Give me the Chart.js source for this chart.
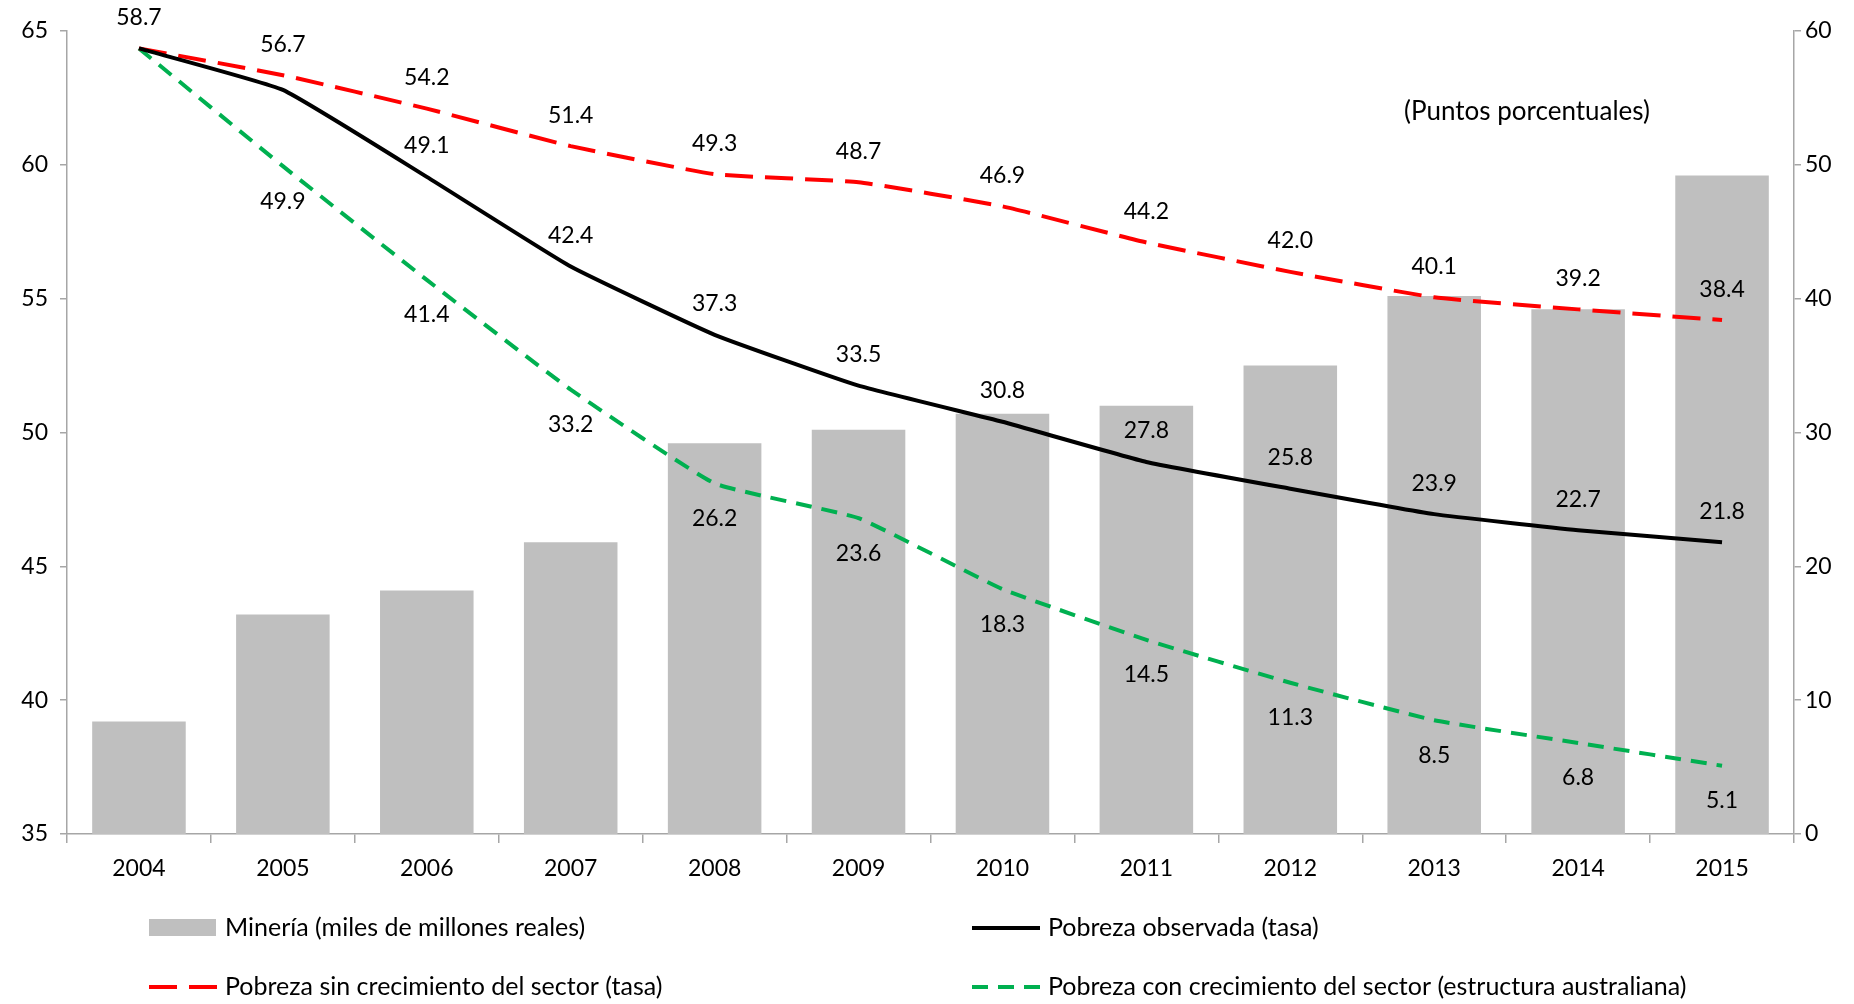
<!DOCTYPE html>
<html>
<head>
<meta charset="utf-8">
<script src="https://cdn.jsdelivr.net/npm/chart.js@4.4.1/dist/chart.umd.min.js"></script>
<style>
html, body { margin: 0; padding: 0; background: #fff; }
#wrap { width: 1854px; height: 1004px; }
</style>
</head>
<body>
<div id="wrap"><canvas id="chart" width="1854" height="1004"></canvas></div>
<script>
// data
const years = ['2004', '2005', '2006', '2007', '2008', '2009', '2010', '2011', '2012', '2013', '2014', '2015'];
const mineria = [39.2, 43.2, 44.1, 45.9, 49.6, 50.1, 50.7, 51.0, 52.5, 55.1, 54.6, 59.6];
const pobrezaObservada = [58.7, 55.6, 49.1, 42.4, 37.3, 33.5, 30.8, 27.8, 25.8, 23.9, 22.7, 21.8];
const pobrezaSin = [58.7, 56.7, 54.2, 51.4, 49.3, 48.7, 46.9, 44.2, 42.0, 40.1, 39.2, 38.4];
const pobrezaCon = [58.7, 49.9, 41.4, 33.2, 26.2, 23.6, 18.3, 14.5, 11.3, 8.5, 6.8, 5.1];
const leftAxis = { min: 35, max: 65, step: 5 };
const rightAxis = { min: 0, max: 60, step: 10 };
const unitNote = '(Puntos porcentuales)';

const FONT = '23px Lato';
const LEGEND_FONT = '25px Lato';
const AXIS_GRAY = '#a6a6a6';

Chart.defaults.color = '#000';
Chart.defaults.font.family = 'Lato';
Chart.defaults.font.size = 23;

// value labels next to the line points
const pointLabels = {
    id: 'pointLabels',
    afterDatasetsDraw(chart) {
        const ctx = chart.ctx;
        ctx.save();
        ctx.font = FONT;
        ctx.fillStyle = '#000';
        ctx.textAlign = 'center';
        ctx.textBaseline = 'middle';
        chart.data.datasets.forEach((ds, i) => {
            if (ds.type !== 'line') return;
            const meta = chart.getDatasetMeta(i);
            meta.data.forEach((pt, j) => {
                if (ds.skipLabels.includes(j)) return;
                const dy = ds.labelPos === 'below' ? 35 : -31;
                ctx.fillText(ds.data[j].toFixed(1), pt.x, pt.y + dy);
            });
        });
        ctx.restore();
    }
};

// two-column legend under the axis, plus the unit note
const bottomLegend = {
    id: 'bottomLegend',
    afterDraw(chart) {
        const ctx = chart.ctx;
        const slots = [
            { ds: 0, x: 149, y: 928 },
            { ds: 1, x: 972, y: 928 },
            { ds: 2, x: 149, y: 987 },
            { ds: 3, x: 972, y: 987 }
        ];
        ctx.save();
        slots.forEach(s => {
            const ds = chart.data.datasets[s.ds];
            if (ds.type === 'bar') {
                ctx.fillStyle = ds.backgroundColor;
                ctx.fillRect(s.x, s.y - 9, 67, 17);
            } else {
                ctx.strokeStyle = ds.borderColor;
                ctx.lineWidth = ds.borderWidth;
                ctx.setLineDash(ds.borderDash || []);
                ctx.beginPath();
                ctx.moveTo(s.x, s.y);
                ctx.lineTo(s.x + 68, s.y);
                ctx.stroke();
                ctx.setLineDash([]);
            }
            ctx.font = LEGEND_FONT;
            ctx.fillStyle = '#000';
            ctx.textAlign = 'left';
            ctx.textBaseline = 'middle';
            ctx.fillText(ds.label, s.x + 76, s.y);
        });
        ctx.font = '26px Lato';
        ctx.textAlign = 'center';
        ctx.fillText(unitNote, 1527, 112);
        ctx.restore();
    }
};

const ctx = document.getElementById('chart').getContext('2d');
const chart = new Chart(ctx, {
    type: 'bar',
    data: {
        labels: years,
        datasets: [
            {
                type: 'bar',
                label: 'Minería (miles de millones reales)',
                data: mineria,
                backgroundColor: '#bfbfbf',
                yAxisID: 'yLeft',
                barPercentage: 0.65,
                categoryPercentage: 1.0,
                order: 10
            },
            {
                type: 'line',
                label: 'Pobreza observada (tasa)',
                data: pobrezaObservada,
                borderColor: '#000000',
                borderWidth: 4,
                pointRadius: 0,
                tension: 0.12,
                yAxisID: 'yRight',
                labelPos: 'above',
                skipLabels: [1],
                order: 1
            },
            {
                type: 'line',
                label: 'Pobreza sin crecimiento del sector (tasa)',
                data: pobrezaSin,
                borderColor: '#ff0000',
                borderWidth: 4,
                borderDash: [28, 12],
                pointRadius: 0,
                tension: 0.12,
                yAxisID: 'yRight',
                labelPos: 'above',
                skipLabels: [0],
                order: 2
            },
            {
                type: 'line',
                label: 'Pobreza con crecimiento del sector (estructura australiana)',
                data: pobrezaCon,
                borderColor: '#00b050',
                borderWidth: 4,
                borderDash: [16, 10],
                pointRadius: 0,
                tension: 0.12,
                yAxisID: 'yRight',
                labelPos: 'below',
                skipLabels: [0],
                order: 3
            }
        ]
    },
    options: {
        responsive: false,
        animation: false,
        devicePixelRatio: 1,
        layout: { padding: { top: 31, left: 0, right: 0, bottom: 0 } },
        plugins: {
            legend: { display: false },
            tooltip: { enabled: false }
        },
        scales: {
            x: {
                grid: { drawOnChartArea: false, drawTicks: true, tickLength: 9, color: AXIS_GRAY, lineWidth: 1.5 },
                border: { color: AXIS_GRAY, width: 1.5 },
                ticks: { padding: 12, font: { size: 23 } },
                afterFit: s => { s.height = 170; }
            },
            yLeft: {
                position: 'left',
                min: leftAxis.min,
                max: leftAxis.max,
                ticks: { stepSize: leftAxis.step, padding: 12 },
                grid: { drawOnChartArea: false, tickLength: 7, color: AXIS_GRAY, lineWidth: 1.5 },
                border: { color: AXIS_GRAY, width: 1.5 },
                afterFit: s => { s.width = 67; }
            },
            yRight: {
                position: 'right',
                min: rightAxis.min,
                max: rightAxis.max,
                ticks: { stepSize: rightAxis.step, padding: 4 },
                grid: { drawOnChartArea: false, tickLength: 7, color: AXIS_GRAY, lineWidth: 1.5 },
                border: { color: AXIS_GRAY, width: 1.5 },
                afterFit: s => { s.width = 60; }
            }
        }
    },
    plugins: [pointLabels, bottomLegend]
});
</script>
</body>
</html>
